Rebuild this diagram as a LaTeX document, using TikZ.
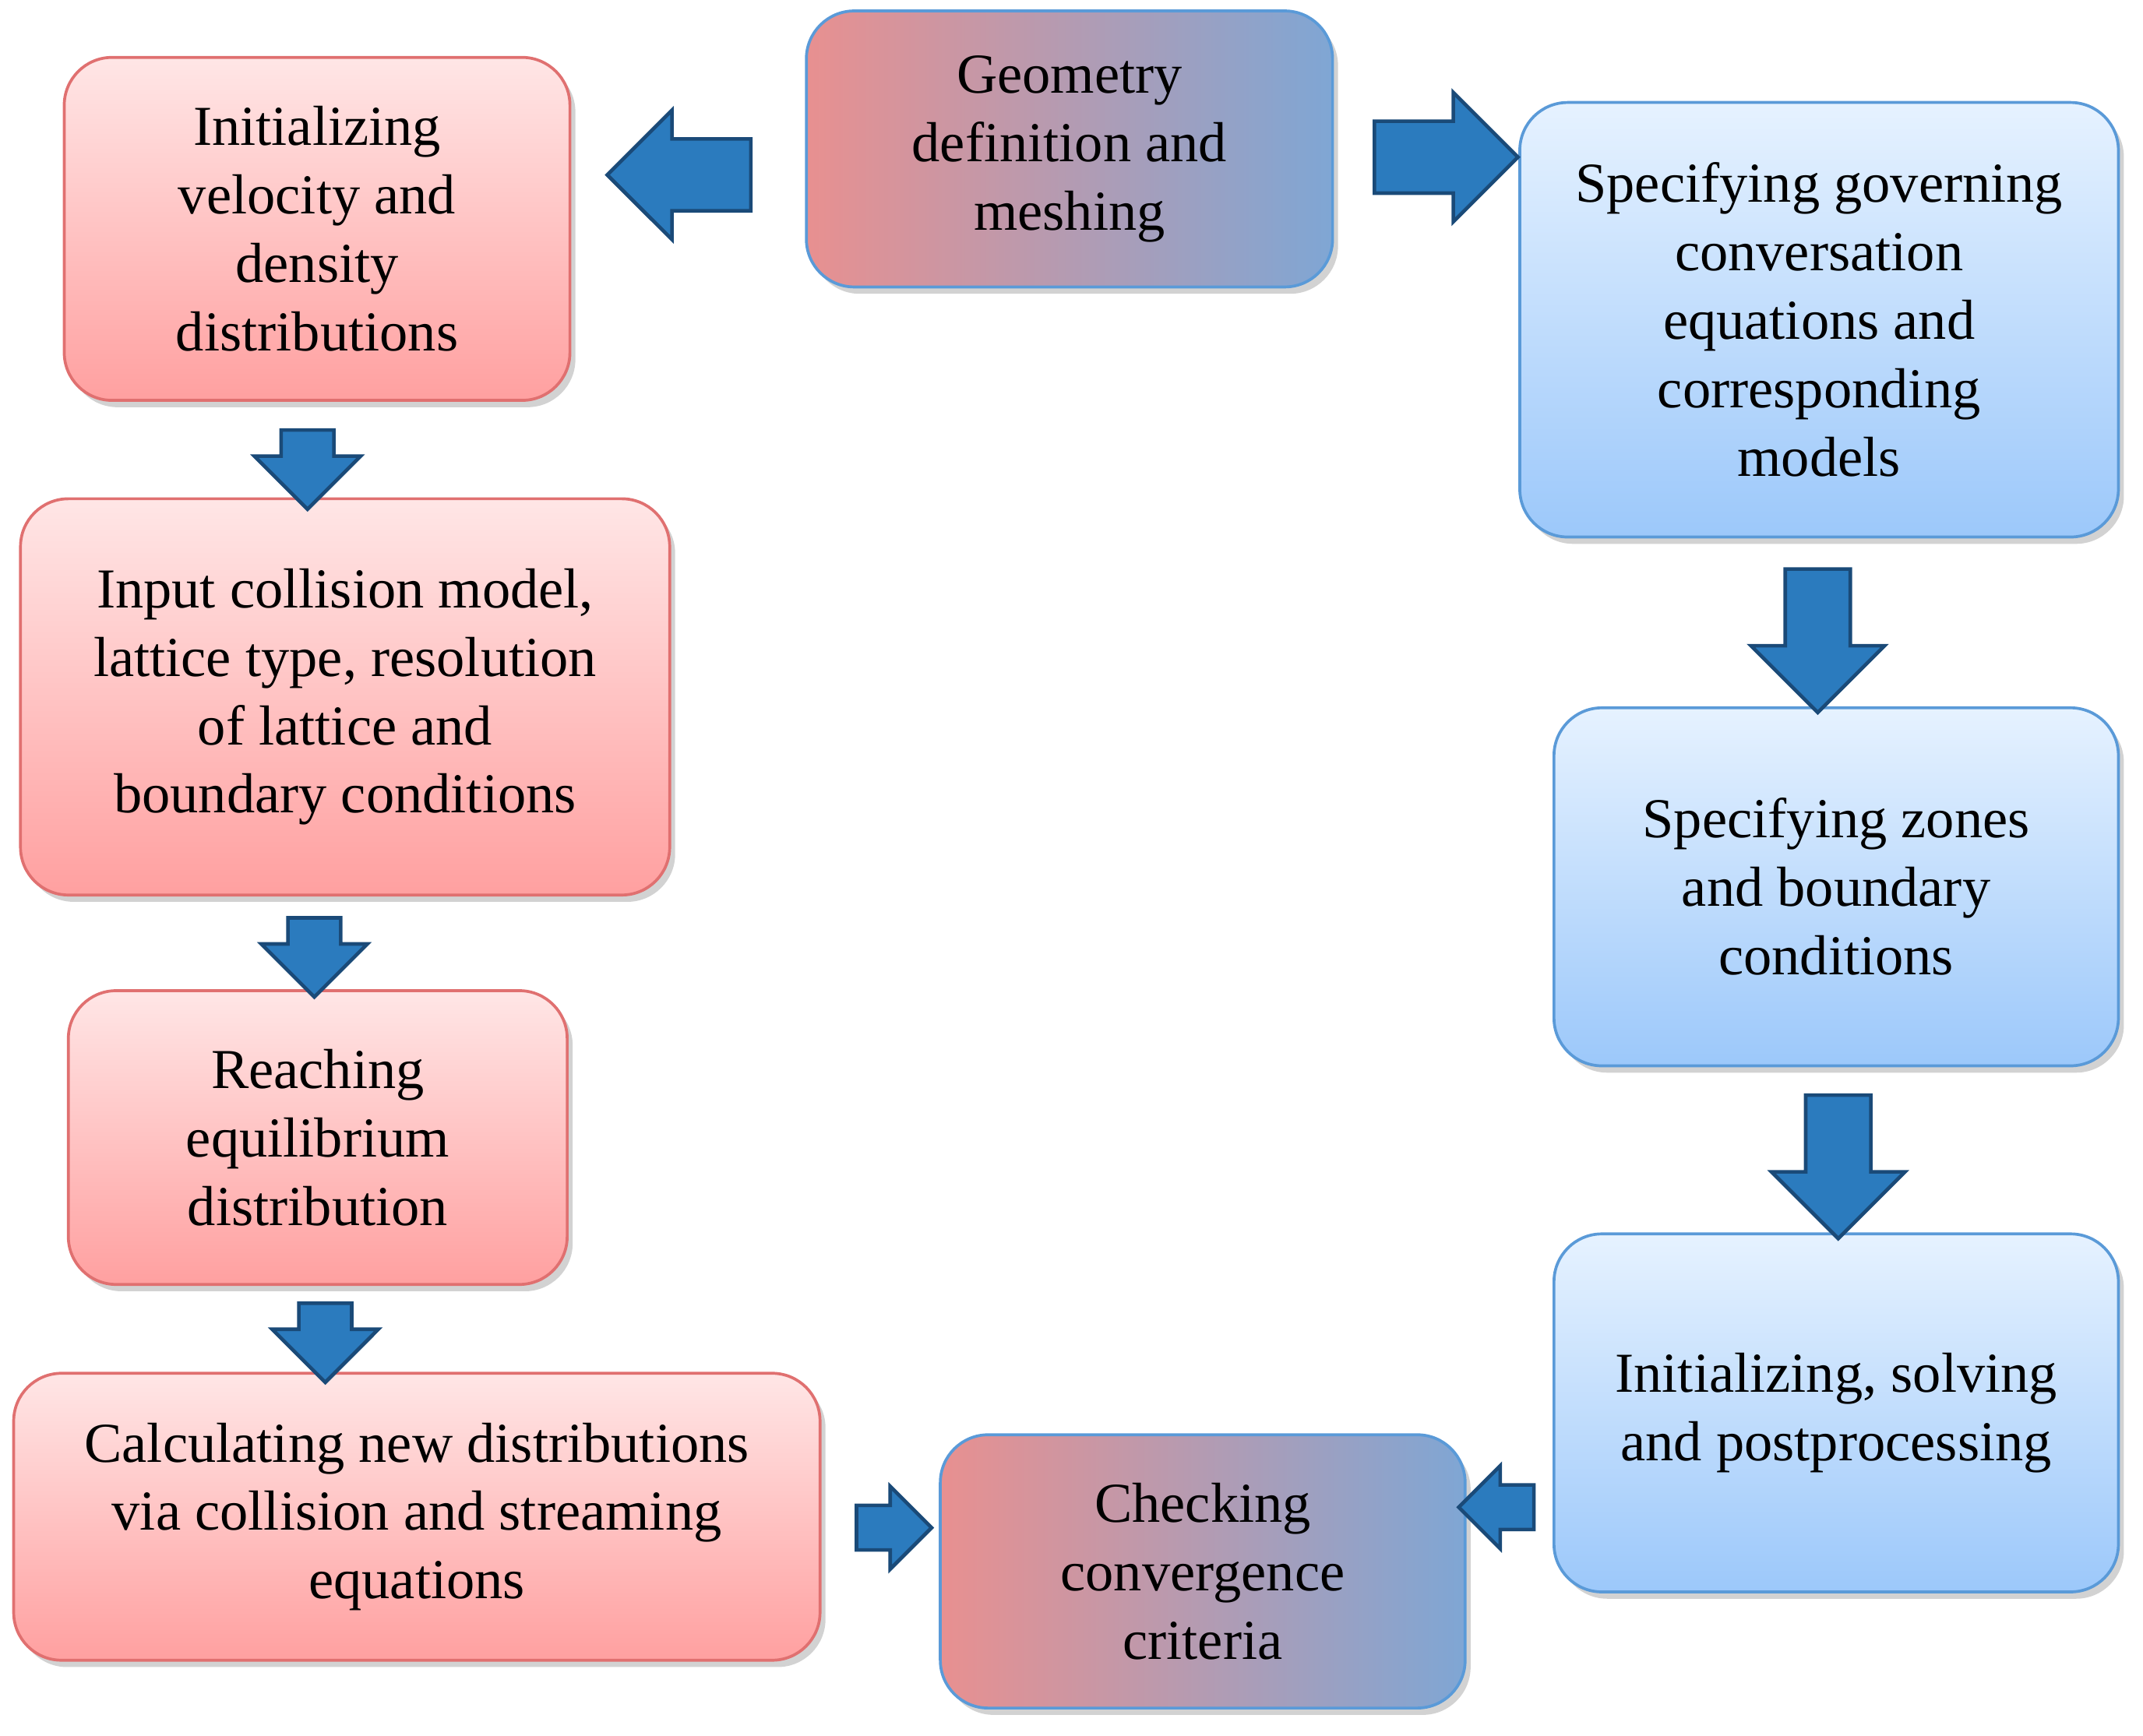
\documentclass[tikz,border=0pt]{standalone}
\usepackage{fontspec}
\setmainfont{Liberation Serif}
\usetikzlibrary{shapes.arrows,shadows}
\definecolor{rb}{HTML}{E07070}
\definecolor{bb}{HTML}{5A9AD8}
\definecolor{af}{HTML}{2B7BBE}
\definecolor{ad}{HTML}{1A4A78}
\definecolor{rt}{HTML}{FFE6E6}
\definecolor{rbot}{HTML}{FFA0A0}
\definecolor{bt}{HTML}{E6F2FF}
\definecolor{bbot}{HTML}{9CC8FA}
\definecolor{ml}{HTML}{E89090}
\definecolor{mr}{HTML}{7FA6D4}
\begin{document}
\begin{tikzpicture}[
  box/.style={rounded corners=0.7cm, line width=1.2pt, align=center,
    font=\fontsize{23.5}{28.5}\selectfont, inner sep=0pt,
    drop shadow={shadow xshift=0.08cm, shadow yshift=-0.1cm, fill=black!35}},
  red/.style={box, draw=rb, top color=rt, bottom color=rbot},
  blue/.style={box, draw=bb, top color=bt, bottom color=bbot},
  mix/.style={box, draw=bb, left color=ml, right color=mr},
  barr/.style={single arrow, fill=af, draw=ad, line width=1.5pt, inner sep=#1},
]
\useasboundingbox (0,0) rectangle (31.36,-25.4);
\node[mix, minimum width=7.7cm, minimum height=4.04cm] (geo) at (15.65,-2.18) {Geometry\\definition and\\meshing};
\node[red, minimum width=7.4cm, minimum height=5.02cm] (initv) at (4.64,-3.35) {Initializing\\velocity and\\density\\distributions};
\node[red, minimum width=9.5cm, minimum height=5.8cm] (input) at (5.05,-10.2) {Input collision model,\\lattice type, resolution\\of lattice and\\boundary conditions};
\node[red, minimum width=7.3cm, minimum height=4.3cm] (reach) at (4.65,-16.65) {Reaching\\equilibrium\\distribution};
\node[red, minimum width=11.8cm, minimum height=4.2cm] (calc) at (6.1,-22.2) {Calculating new distributions\\via collision and streaming\\equations};
\node[mix, minimum width=7.68cm, minimum height=4.0cm] (check) at (17.6,-23.0) {Checking\\convergence\\criteria};
\node[blue, minimum width=8.76cm, minimum height=6.36cm] (gov) at (26.62,-4.68) {Specifying governing\\conversation\\equations and\\corresponding\\models};
\node[blue, minimum width=8.26cm, minimum height=5.24cm] (zones) at (26.87,-12.98) {Specifying zones\\and boundary\\conditions};
\node[blue, minimum width=8.26cm, minimum height=5.24cm] (solve) at (26.87,-20.68) {Initializing, solving\\and postprocessing};
% block arrows
\node[barr=0.5cm, single arrow head extend=0.42cm, minimum height=2.1cm, shape border rotate=180] (a1) at (10.2,-2.56) {};
\node[barr=0.5cm, single arrow head extend=0.42cm, minimum height=2.1cm] (a2) at (20.9,-2.3) {};
\node[barr=0.36cm, single arrow head extend=0.39cm, minimum height=1.04cm, shape border rotate=270] (a3) at (4.5,-6.68) {};
\node[barr=0.36cm, single arrow head extend=0.39cm, minimum height=1.04cm, shape border rotate=270] (a4) at (4.6,-13.82) {};
\node[barr=0.36cm, single arrow head extend=0.39cm, minimum height=1.04cm, shape border rotate=270] (a5) at (4.76,-19.46) {};
\node[barr=0.45cm, single arrow head extend=0.5cm, minimum height=2.1cm, shape border rotate=270] (a6) at (26.6,-9.14) {};
\node[barr=0.45cm, single arrow head extend=0.5cm, minimum height=2.1cm, shape border rotate=270] (a7) at (26.9,-16.84) {};
\node[barr=0.3cm, single arrow head extend=0.28cm, minimum height=1.1cm] (a8) at (12.92,-22.36) {};
\node[barr=0.3cm, single arrow head extend=0.28cm, minimum height=1.1cm, shape border rotate=180] (a9) at (22.06,-22.06) {};
\end{tikzpicture}
\end{document}
